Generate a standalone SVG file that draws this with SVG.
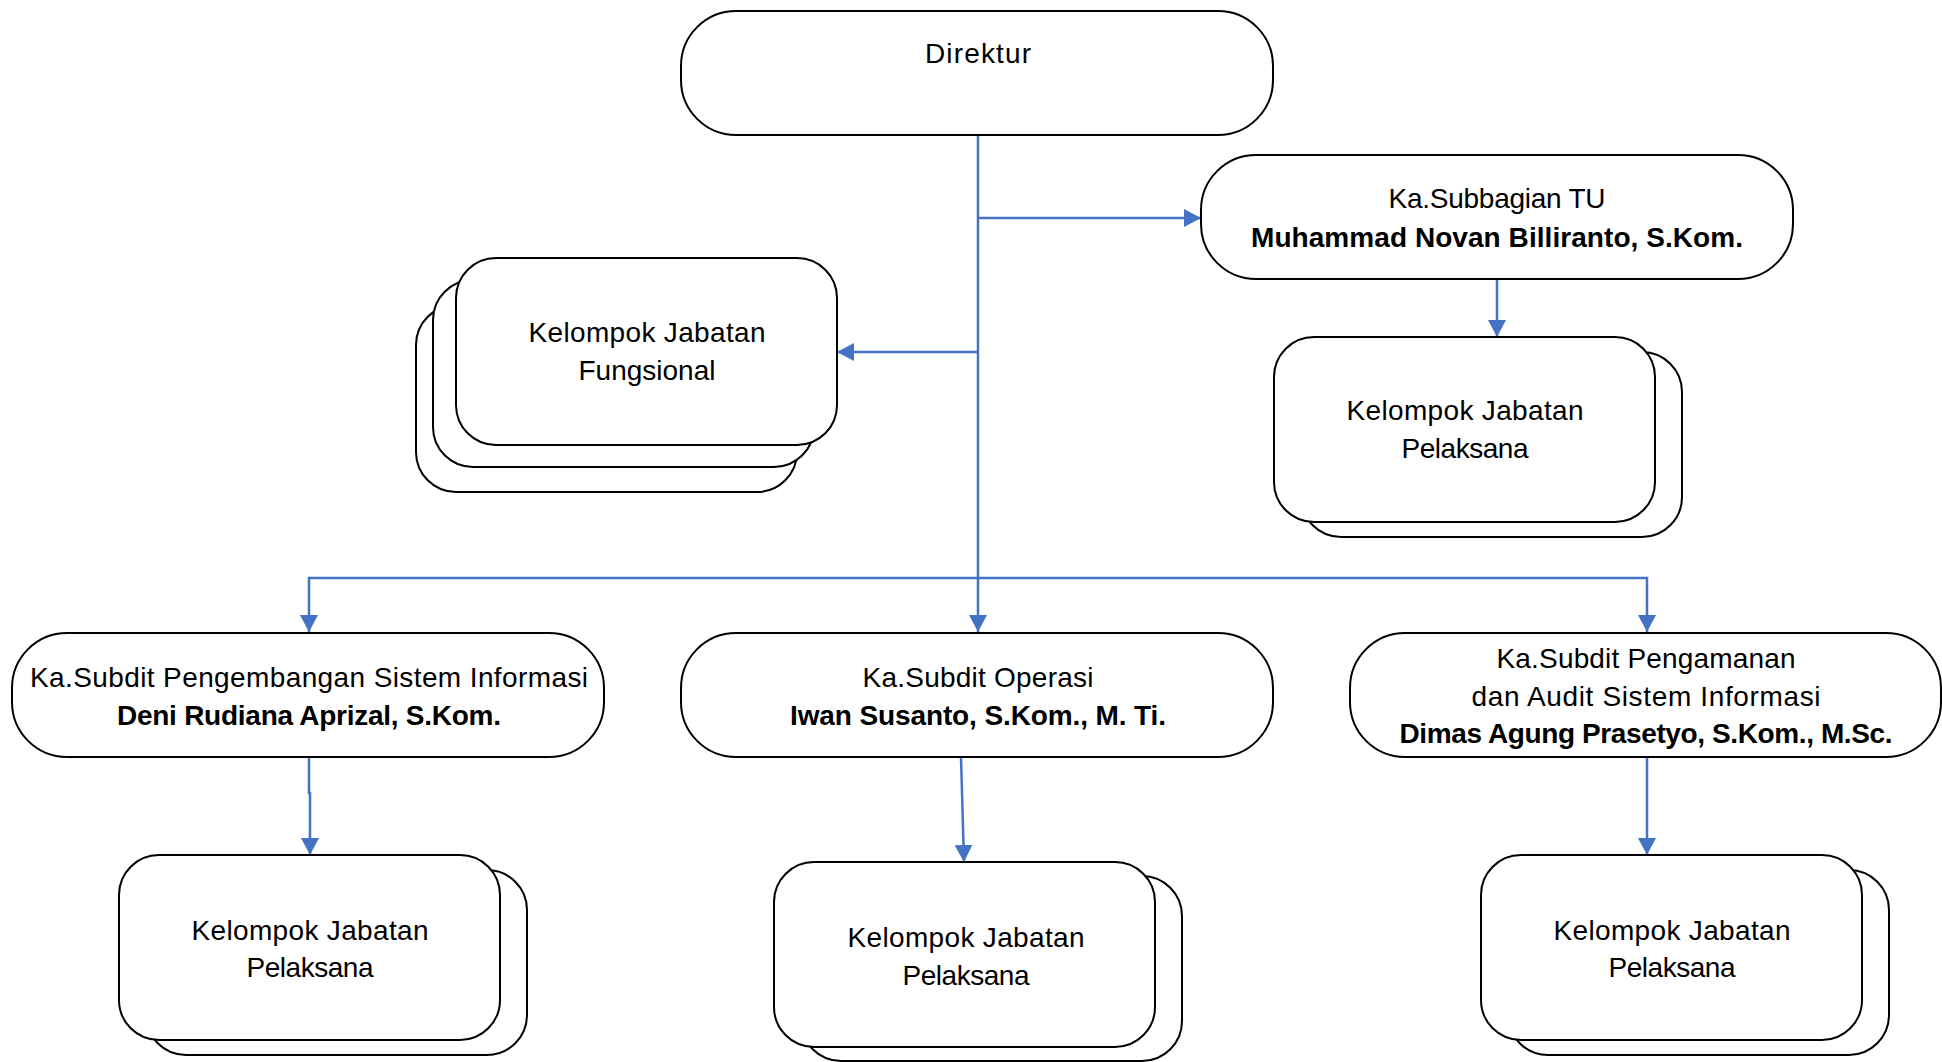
<svg xmlns="http://www.w3.org/2000/svg" width="1942" height="1062" viewBox="0 0 1942 1062">
<style>
.pill{fill:#fff;stroke:#000;stroke-width:2}
.grp{fill:#fff;stroke:#000;stroke-width:2}
.t{font-family:"Liberation Sans",Arial,sans-serif;font-size:28px;fill:#000;text-anchor:middle}
.b{font-weight:bold}
.c{fill:none;stroke:#4472C4;stroke-width:2.5}
</style>
<defs>
<marker id="ah" markerUnits="userSpaceOnUse" markerWidth="18" markerHeight="18" refX="17" refY="9" orient="auto">
<path d="M0,0 L17,9 L0,18 z" fill="#4472C4"/>
</marker>
</defs>
<rect width="1942" height="1062" fill="#fff"/>
<g id="connectors">
<path class="c" d="M978,135 V632" marker-end="url(#ah)"/>
<path class="c" d="M978,218 H1201" marker-end="url(#ah)"/>
<path class="c" d="M978,352 H837" marker-end="url(#ah)"/>
<path class="c" d="M978,578 H309 V632" marker-end="url(#ah)"/>
<path class="c" d="M978,578 H1647 V632" marker-end="url(#ah)"/>
<path class="c" d="M1497,279 V337" marker-end="url(#ah)"/>
<path class="c" d="M309,757 V793 H310 V855" marker-end="url(#ah)"/>
<path class="c" d="M961,757 L964,862" marker-end="url(#ah)"/>
<path class="c" d="M1647,757 V855" marker-end="url(#ah)"/>
</g>
<g id="direktur">
<rect class="pill" x="681" y="11" width="592" height="124" rx="55" ry="55"/>
<text class="t" x="978" y="63" textLength="106">Direktur</text>
</g>
<g id="subbagian-tu">
<rect class="pill" x="1201" y="155" width="592" height="124" rx="55" ry="55"/>
<text class="t" x="1497" y="208" textLength="217">Ka.Subbagian TU</text>
<text class="t b" x="1497" y="247" textLength="492">Muhammad Novan Billiranto, S.Kom.</text>
</g>
<g id="fungsional">
<rect class="grp" x="416" y="305" width="381" height="187" rx="40" ry="40"/>
<rect class="grp" x="433" y="280" width="381" height="187" rx="40" ry="40"/>
<rect class="grp" x="456" y="258" width="381" height="187" rx="40" ry="40"/>
<text class="t" x="647" y="342" textLength="237">Kelompok Jabatan</text>
<text class="t" x="647" y="380" textLength="137">Fungsional</text>
</g>
<g id="pelaksana-tu">
<rect class="grp" x="1301" y="352" width="381" height="185" rx="40" ry="40"/>
<rect class="grp" x="1274" y="337" width="381" height="185" rx="40" ry="40"/>
<text class="t" x="1465" y="420" textLength="237">Kelompok Jabatan</text>
<text class="t" x="1465" y="458" textLength="127">Pelaksana</text>
</g>
<g id="subdit-psi">
<rect class="pill" x="12" y="633" width="592" height="124" rx="55" ry="55"/>
<text class="t" x="309" y="687" textLength="558">Ka.Subdit Pengembangan Sistem Informasi</text>
<text class="t b" x="309" y="725" textLength="384">Deni Rudiana Aprizal, S.Kom.</text>
</g>
<g id="subdit-operasi">
<rect class="pill" x="681" y="633" width="592" height="124" rx="55" ry="55"/>
<text class="t" x="978" y="687" textLength="231">Ka.Subdit Operasi</text>
<text class="t b" x="978" y="725" textLength="376">Iwan Susanto, S.Kom., M. Ti.</text>
</g>
<g id="subdit-pengamanan">
<rect class="pill" x="1350" y="633" width="591" height="124" rx="55" ry="55"/>
<text class="t" x="1646" y="668" textLength="299">Ka.Subdit Pengamanan</text>
<text class="t" x="1646" y="706" textLength="349">dan Audit Sistem Informasi</text>
<text class="t b" x="1646" y="743" textLength="493">Dimas Agung Prasetyo, S.Kom., M.Sc.</text>
</g>
<g id="pelaksana-psi">
<rect class="grp" x="146" y="870" width="381" height="185" rx="40" ry="40"/>
<rect class="grp" x="119" y="855" width="381" height="185" rx="40" ry="40"/>
<text class="t" x="310" y="940" textLength="237">Kelompok Jabatan</text>
<text class="t" x="310" y="977" textLength="127">Pelaksana</text>
</g>
<g id="pelaksana-operasi">
<rect class="grp" x="801" y="876" width="381" height="185" rx="40" ry="40"/>
<rect class="grp" x="774" y="862" width="381" height="185" rx="40" ry="40"/>
<text class="t" x="966" y="947" textLength="237">Kelompok Jabatan</text>
<text class="t" x="966" y="985" textLength="127">Pelaksana</text>
</g>
<g id="pelaksana-pengamanan">
<rect class="grp" x="1508" y="870" width="381" height="185" rx="40" ry="40"/>
<rect class="grp" x="1481" y="855" width="381" height="185" rx="40" ry="40"/>
<text class="t" x="1672" y="940" textLength="237">Kelompok Jabatan</text>
<text class="t" x="1672" y="977" textLength="127">Pelaksana</text>
</g>
</svg>
